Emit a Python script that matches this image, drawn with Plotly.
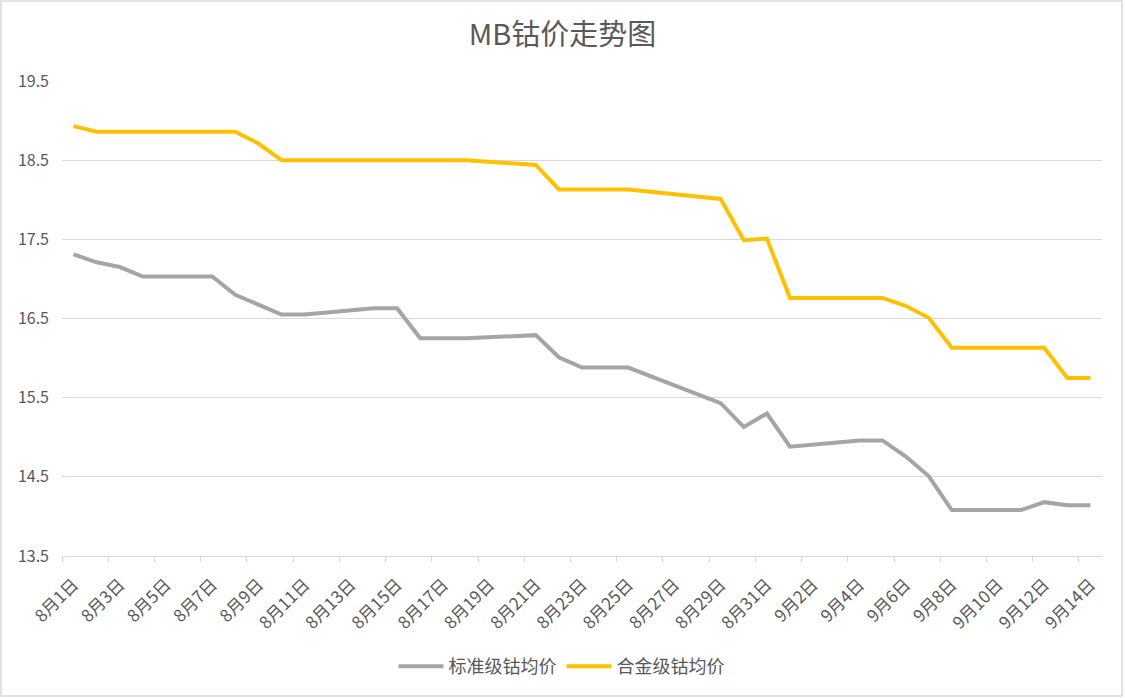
import plotly.graph_objects as go

# ---- data ----
dates = [f"8月{d}日" for d in range(1, 32)] + [f"9月{d}日" for d in range(1, 15)]

standard = [17.31, 17.21, 17.15, 17.03, 17.03, 17.03, 17.03, 16.80, None, 16.55,
            16.55, None, None, 16.63, 16.63, 16.25, 16.25, 16.25, None, None,
            16.29, 16.01, 15.88, 15.88, 15.88, None, None, None, 15.43, 15.13,
            15.30, 14.88, None, None, 14.96, 14.96, 14.76, 14.51, 14.08, 14.08,
            14.08, 14.08, 14.18, 14.14, 14.14]

alloy = [18.93, 18.86, 18.86, 18.86, 18.86, 18.86, 18.86, 18.86, 18.71, 18.50,
         18.50, 18.50, 18.50, 18.50, 18.50, 18.50, 18.50, 18.50, None, None,
         18.44, 18.13, 18.13, 18.13, 18.13, None, None, None, 18.01, 17.49,
         17.51, 16.76, 16.76, 16.76, 16.76, 16.76, 16.66, 16.51, 16.13, 16.13,
         16.13, 16.13, 16.13, 15.75, 15.75]

series_names = ["标准级钴均价", "合金级钴均价"]
title_text = "MB钴价走势图"
y_ticks = [13.5, 14.5, 15.5, 16.5, 17.5, 18.5, 19.5]

# ---- figure ----
idx = list(range(len(dates)))
font_family = "Noto Sans CJK SC, Noto Sans, sans-serif"
txt_color = "#595959"
grid_color = "#D9D9D9"

fig = go.Figure()
fig.add_trace(go.Scatter(x=idx, y=standard, mode="lines", name=series_names[0],
                         connectgaps=True,
                         line=dict(color="#A5A5A5", width=4)))
fig.add_trace(go.Scatter(x=idx, y=alloy, mode="lines", name=series_names[1],
                         connectgaps=True,
                         line=dict(color="#FFC000", width=4)))

label_idx = idx[::2]
fig.update_xaxes(
    range=[-0.5, len(dates) - 0.5],
    tickmode="array",
    tickvals=label_idx,
    ticktext=[dates[i] for i in label_idx],
    tickangle=-45,
    ticks="",
    ticklabelstandoff=11,
    tickfont=dict(size=17, color=txt_color, family=font_family),
    showgrid=False,
    zeroline=False,
    showline=True,
    linecolor=grid_color,
    linewidth=1,
    automargin=False,
    minor=dict(tickvals=[i - 0.5 for i in label_idx], ticks="outside",
               ticklen=5, tickcolor=grid_color, tickwidth=1, showgrid=False),
)
fig.update_yaxes(
    range=[13.5, 19.5],
    tickmode="array",
    tickvals=y_ticks,
    ticktext=[f"{v:.1f}" for v in y_ticks],
    ticks="",
    ticklabelstandoff=12,
    tickfont=dict(size=16, color=txt_color, family=font_family),
    showgrid=True,
    gridcolor=grid_color,
    gridwidth=1,
    zeroline=False,
    showline=False,
    automargin=False,
)

fig.update_layout(
    width=1125, height=698,
    autosize=False,
    paper_bgcolor="white",
    plot_bgcolor="white",
    margin=dict(l=62, r=23, t=81, b=142, autoexpand=False),
    title=dict(text=title_text, x=0.5, xanchor="center", y=1 - 35 / 698,
               yanchor="middle",
               font=dict(size=29, color=txt_color, family=font_family)),
    legend=dict(orientation="h", x=(561.5 - 62) / 1040, xanchor="center",
                y=-0.233, yanchor="middle",
                font=dict(size=18, color=txt_color, family=font_family),
                itemwidth=45, tracegroupgap=0),
    showlegend=True,
    shapes=[dict(type="rect", xref="paper", yref="paper",
                 x0=(1 - 62) / 1040, x1=(1122 - 62) / 1040,
                 y0=(556 - 696) / 475, y1=(556 - 1) / 475,
                 line=dict(color=grid_color, width=1.5), fillcolor="rgba(0,0,0,0)",
                 layer="below")],
)

fig.write_html("out.html", config={"displayModeBar": False},
               post_script="document.body.style.margin='0';document.body.style.padding='0';")
